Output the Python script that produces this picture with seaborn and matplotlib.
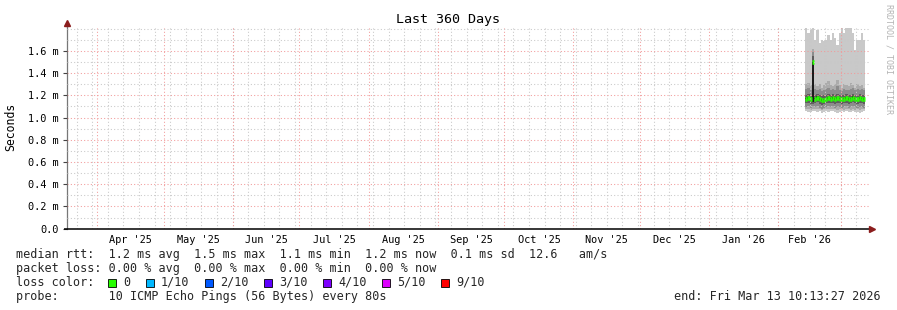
import numpy as np
import pandas as pd
import matplotlib
matplotlib.use("Agg")
import matplotlib.pyplot as plt
from matplotlib.ticker import MultipleLocator, FixedLocator, NullFormatter
from matplotlib.patches import Rectangle
import matplotlib.dates as mdates
import seaborn as sns

# ---------------- data ----------------
end_time = pd.Timestamp("2026-03-13 10:13:27")
span_days = 360
first_day = "2026-02-13"

# daily smoke percentiles (ms) of 10 pings, one value per day
ping_max = [1.81, 1.76, 1.79, 1.81, 1.70, 1.79, 1.67, 1.70, 1.69, 1.70, 1.74, 1.70, 1.76, 1.72,
            1.65, 1.76, 1.81, 1.76, 1.81, 1.81, 1.81, 1.76, 1.61, 1.70, 1.70, 1.76, 1.70]
ping_p9 = [1.30, 1.31, 1.29, 1.62, 1.30, 1.28, 1.30, 1.27, 1.29, 1.31, 1.33, 1.29, 1.28, 1.30,
           1.34, 1.29, 1.27, 1.30, 1.29, 1.28, 1.31, 1.29, 1.27, 1.30, 1.28, 1.29, 1.27]
ping_p8 = [1.26, 1.27, 1.25, 1.59, 1.26, 1.25, 1.26, 1.24, 1.25, 1.26, 1.27, 1.25, 1.26, 1.25,
           1.28, 1.25, 1.24, 1.26, 1.25, 1.25, 1.26, 1.27, 1.25, 1.26, 1.25, 1.26, 1.25]
ping_p7 = [1.205, 1.21, 1.20, 1.55, 1.205, 1.21, 1.20, 1.19, 1.20, 1.205, 1.21, 1.20, 1.21, 1.20,
           1.21, 1.205, 1.20, 1.205, 1.21, 1.20, 1.205, 1.215, 1.205, 1.20, 1.21, 1.205, 1.20]
ping_p6 = [1.18, 1.185, 1.175, 1.50, 1.18, 1.19, 1.175, 1.165, 1.17, 1.18, 1.185, 1.18, 1.185, 1.175,
           1.185, 1.18, 1.175, 1.18, 1.185, 1.175, 1.18, 1.19, 1.18, 1.175, 1.185, 1.18, 1.175]
ping_p5 = [1.165, 1.17, 1.16, 1.14, 1.165, 1.175, 1.16, 1.15, 1.155, 1.165, 1.17, 1.165, 1.17, 1.16,
           1.17, 1.165, 1.16, 1.165, 1.17, 1.16, 1.165, 1.175, 1.165, 1.16, 1.17, 1.165, 1.16]
ping_p4 = [1.13, 1.135, 1.125, 1.12, 1.13, 1.14, 1.125, 1.115, 1.12, 1.13, 1.135, 1.13, 1.135, 1.125,
           1.135, 1.13, 1.125, 1.13, 1.135, 1.125, 1.13, 1.14, 1.13, 1.125, 1.135, 1.13, 1.125]
ping_p3 = [1.095, 1.10, 1.09, 1.10, 1.095, 1.10, 1.09, 1.08, 1.09, 1.095, 1.10, 1.095, 1.10, 1.09,
           1.095, 1.095, 1.09, 1.095, 1.10, 1.09, 1.095, 1.10, 1.095, 1.09, 1.095, 1.095, 1.09]
ping_p2 = [1.075, 1.08, 1.07, 1.08, 1.075, 1.08, 1.075, 1.065, 1.075, 1.08, 1.075, 1.08, 1.08, 1.075,
           1.07, 1.08, 1.075, 1.07, 1.08, 1.075, 1.07, 1.08, 1.07, 1.075, 1.07, 1.08, 1.075]
ping_min = [1.055, 1.05, 1.05, 1.06, 1.055, 1.05, 1.055, 1.04, 1.05, 1.055, 1.05, 1.06, 1.055, 1.05,
            1.045, 1.05, 1.06, 1.05, 1.055, 1.05, 1.05, 1.06, 1.05, 1.05, 1.045, 1.05, 1.055]
median = [1.17, 1.175, 1.165, 1.50, 1.17, 1.18, 1.165, 1.155, 1.16, 1.17, 1.175, 1.17, 1.175, 1.165,
          1.175, 1.17, 1.165, 1.17, 1.175, 1.165, 1.17, 1.18, 1.17, 1.165, 1.175, 1.17, 1.165]

ytick_values = [0.0, 0.2, 0.4, 0.6, 0.8, 1.0, 1.2, 1.4, 1.6]
ytick_labels = ["0.0", "0.2 m", "0.4 m", "0.6 m", "0.8 m", "1.0 m", "1.2 m", "1.4 m", "1.6 m"]
month_labels = ["Apr '25", "May '25", "Jun '25", "Jul '25", "Aug '25", "Sep '25",
                "Oct '25", "Nov '25", "Dec '25", "Jan '26", "Feb '26"]

loss_labels = ["0", "1/10", "2/10", "3/10", "4/10", "5/10", "9/10"]
loss_colors = ["#26ff00", "#00b8ff", "#0059ff", "#5e00ff", "#7e00ff", "#dd00ff", "#ff0000"]

title = "Last 360 Days"
line_rtt = "median rtt:  1.2 ms avg  1.5 ms max  1.1 ms min  1.2 ms now  0.1 ms sd  12.6   am/s"
line_loss = "packet loss: 0.00 % avg  0.00 % max  0.00 % min  0.00 % now"
line_probe = "probe:       10 ICMP Echo Pings (56 Bytes) every 80s"
line_end = "end: Fri Mar 13 10:13:27 2026"

# ---------------- style ----------------
sns.set_theme(style="white")
plt.rcParams["font.family"] = ["DejaVu Sans Mono", "DejaVu Sans"]
MONO = "DejaVu Sans Mono"

W, H = 897, 310
fig = plt.figure(figsize=(W / 100, H / 100), dpi=100)
fig.patch.set_facecolor("white")

def fx(x):
    return x / W

def fy(y):
    return 1 - y / H

ax_left, ax_right, ax_top, ax_bottom = 66.5, 868.5, 27.0, 228.7
ax = fig.add_axes([fx(ax_left), fy(ax_bottom), (ax_right - ax_left) / W, (ax_bottom - ax_top) / H])
ax.set_facecolor("white")

start_time = end_time - pd.Timedelta(days=span_days)
n = len(median)
edges = pd.date_range(first_day, periods=n + 1, freq="D")
xe = mdates.date2num(edges.to_pydatetime())

def stepv(v):
    v = np.asarray(v, dtype=float)
    return np.append(v, v[-1])

# smoke bands (outer = light, inner = dark)
bands = [(ping_min, ping_max, "#c9c9c9"),
         (ping_p2, ping_p9, "#ababab"),
         (ping_p3, ping_p8, "#8c8c8c"),
         (ping_p4, ping_p7, "#5e5e5e"),
         (ping_p5, ping_p6, "#1c1c1c")]
for lo, hi, col in bands:
    ax.fill_between(xe, stepv(lo), stepv(hi), step="post", color=col, linewidth=0, zorder=1)

# median drawn as separate horizontal segments per day (like smokeping)
seg_rows = []
for i in range(n):
    seg_rows.append({"t": xe[i], "v": median[i], "seg": i})
    seg_rows.append({"t": xe[i + 1], "v": median[i], "seg": i})
seg_df = pd.DataFrame(seg_rows)
sns.lineplot(data=seg_df, x="t", y="v", units="seg", estimator=None, color=loss_colors[0],
             linewidth=3.3, solid_capstyle="butt", ax=ax, zorder=2, legend=False)

# ---------------- axes ----------------
ax.set_xlim(mdates.date2num(start_time.to_pydatetime()), mdates.date2num(end_time.to_pydatetime()))
ax.set_ylim(0, 1.815)
ax.set_xlabel("")
ax.set_ylabel("")

# y ticks & grid
ax.yaxis.set_major_locator(FixedLocator(ytick_values))
ax.set_yticklabels(ytick_labels)
ax.yaxis.set_minor_locator(MultipleLocator(0.1))
ax.yaxis.set_minor_formatter(NullFormatter())
ax.tick_params(axis="y", which="major", left=True, length=3, width=0.8, color="#444444",
               pad=2.5, labelsize=7.4, labelcolor="#000000")
ax.tick_params(axis="y", which="minor", left=False, length=0)

# x: month starts (red grid), mid-month labels
month_starts = pd.date_range("2025-04-01", "2026-03-01", freq="MS")
ms_num = mdates.date2num(month_starts.to_pydatetime())
mid_num = (ms_num[:-1] + ms_num[1:]) / 2
ax.xaxis.set_major_locator(FixedLocator(ms_num))
ax.xaxis.set_major_formatter(NullFormatter())
ax.xaxis.set_minor_locator(FixedLocator(mid_num))
ax.set_xticklabels(month_labels, minor=True)
ax.tick_params(axis="x", which="both", bottom=False, length=0, pad=4.5, labelsize=7.4,
               labelcolor="#000000")

dot = (0, (1, 2.2))
red = "#f29a9a"
gray = "#c8c8c8"
ax.set_axisbelow(False)
ax.grid(which="major", axis="y", color=red, linestyle=dot, linewidth=0.75)
ax.grid(which="minor", axis="y", color=gray, linestyle=dot, linewidth=0.75)
ax.grid(which="major", axis="x", color=red, linestyle=dot, linewidth=0.75)
ax.grid(which="minor", axis="x", visible=False)

weeks = pd.date_range(start_time.normalize(), end_time, freq="W-SUN")
for w in mdates.date2num(weeks.to_pydatetime()):
    ax.axvline(w, color=gray, linestyle=dot, linewidth=0.75, zorder=2.4)

for s in ["top", "right", "bottom"]:
    ax.spines[s].set_visible(False)
ax.spines["left"].set_color("#777777")
ax.spines["left"].set_linewidth(0.9)

# bottom axis line + arrows
ax.plot([-0.003, 1.004], [0, 0], transform=ax.transAxes, color="#000000", linewidth=1.1,
        clip_on=False, zorder=5, solid_capstyle="butt")
ax.plot([1.0045], [0], transform=ax.transAxes, marker=">", markersize=4.2, color="#8b1c1c",
        clip_on=False, zorder=6, linestyle="none")
ax.plot([0, 0], [1.0, 1.015], transform=ax.transAxes, color="#777777", linewidth=0.9,
        clip_on=False, zorder=5)
ax.plot([0], [1.018], transform=ax.transAxes, marker="^", markersize=4.2, color="#8b1c1c",
        clip_on=False, zorder=6, linestyle="none")

# ---------------- texts ----------------
fig.text(fx(448), fy(20), title, ha="center", va="center", fontsize=9.6, family=MONO, color="#000000")
fig.text(fx(11), fy(127), "Seconds", ha="center", va="center", rotation=90, fontsize=8.3,
         family=MONO, color="#000000")
fig.text(fx(889), fy(59.5), "RRDTOOL / TOBI OETIKER", ha="center", va="center", rotation=-90,
         fontsize=6.0, family=MONO, color="#b4b4b4")

fs = 8.5
fig.text(fx(16), fy(254.3), line_rtt, ha="left", va="center", fontsize=fs, family=MONO)
fig.text(fx(16), fy(268.3), line_loss, ha="left", va="center", fontsize=fs, family=MONO)
fig.text(fx(16), fy(282.3), "loss color:", ha="left", va="center", fontsize=fs, family=MONO)
fig.text(fx(16), fy(296.3), line_probe, ha="left", va="center", fontsize=fs, family=MONO)
fig.text(fx(880.5), fy(296.3), line_end, ha="right", va="center", fontsize=fs, family=MONO)

cw = 7.1
cursor = 108.0
for lab, col in zip(loss_labels, loss_colors):
    fig.patches.append(Rectangle((fx(cursor), fy(286.5)), 8 / W, 8 / H, transform=fig.transFigure,
                                 facecolor=col, edgecolor="#000000", linewidth=0.6))
    fig.text(fx(cursor + 15), fy(282.3), lab, ha="left", va="center", fontsize=fs, family=MONO)
    cursor += 15 + len(lab) * cw + 15.7

fig.savefig("out.png", dpi=100, facecolor="white")
